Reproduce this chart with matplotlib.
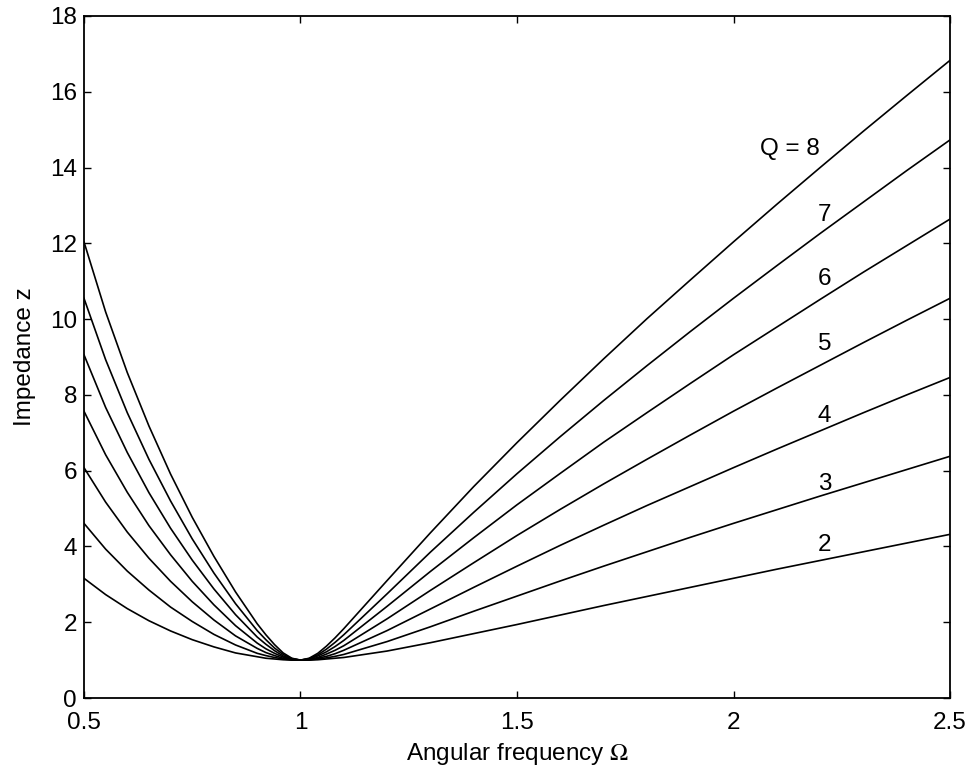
import numpy as np
import matplotlib
matplotlib.use('Agg')
import matplotlib.pyplot as plt

plt.rcParams['font.family'] = ['Liberation Sans', 'DejaVu Sans']
plt.rcParams['mathtext.fontset'] = 'stix'

# frecuencia angular (muestreo mas fino cerca de la resonancia)
omega = [0.50, 0.55, 0.60, 0.65, 0.70, 0.75, 0.80, 0.85, 0.90, 0.92, 0.94,
         0.96, 0.98, 1.00, 1.02, 1.04, 1.06, 1.08, 1.10, 1.20, 1.30, 1.40,
         1.50, 1.60, 1.70, 1.80, 1.90, 2.00, 2.10, 2.20, 2.30, 2.40, 2.50]

z_q2 = [3.16, 2.73, 2.36, 2.04, 1.77, 1.54, 1.35, 1.19, 1.09, 1.05, 1.03,
        1.01, 1.00, 1.00, 1.00, 1.01, 1.03, 1.05, 1.07, 1.24, 1.46, 1.70,
        1.94, 2.19, 2.44, 2.68, 2.92, 3.16, 3.40, 3.63, 3.86, 4.09, 4.32]
z_q3 = [4.61, 3.93, 3.35, 2.85, 2.40, 2.02, 1.68, 1.40, 1.18, 1.12, 1.07,
        1.03, 1.01, 1.00, 1.01, 1.03, 1.06, 1.10, 1.15, 1.49, 1.88, 2.29,
        2.69, 3.09, 3.48, 3.86, 4.24, 4.61, 4.97, 5.33, 5.68, 6.03, 6.38]
z_q4 = [6.08, 5.17, 4.38, 3.69, 3.08, 2.54, 2.06, 1.64, 1.31, 1.20, 1.12,
        1.05, 1.01, 1.00, 1.01, 1.05, 1.10, 1.17, 1.26, 1.78, 2.35, 2.92,
        3.48, 4.03, 4.56, 5.08, 5.58, 6.08, 6.57, 7.05, 7.53, 8.00, 8.46]
z_q5 = [7.57, 6.42, 5.43, 4.55, 3.78, 3.08, 2.46, 1.91, 1.45, 1.30, 1.18,
        1.08, 1.02, 1.00, 1.02, 1.07, 1.16, 1.26, 1.38, 2.09, 2.84, 3.57,
        4.29, 4.98, 5.65, 6.30, 6.94, 7.57, 8.18, 8.78, 9.38, 9.97, 10.55]
z_q6 = [9.06, 7.67, 6.48, 5.42, 4.48, 3.64, 2.88, 2.20, 1.61, 1.42, 1.25,
        1.11, 1.03, 1.00, 1.03, 1.11, 1.22, 1.36, 1.52, 2.42, 3.34, 4.23,
        5.10, 5.93, 6.75, 7.53, 8.30, 9.06, 9.79, 10.52, 11.24, 11.94, 12.64]
z_q7 = [10.55, 8.93, 7.53, 6.30, 5.20, 4.20, 3.30, 2.49, 1.78, 1.54, 1.32,
        1.15, 1.04, 1.00, 1.04, 1.14, 1.29, 1.47, 1.67, 2.75, 3.85, 4.90,
        5.92, 6.90, 7.85, 8.77, 9.67, 10.55, 11.41, 12.26, 13.09, 13.92, 14.73]
z_q8 = [12.04, 10.19, 8.59, 7.18, 5.91, 4.77, 3.74, 2.80, 1.96, 1.67, 1.41,
        1.19, 1.05, 1.00, 1.05, 1.18, 1.37, 1.59, 1.83, 3.10, 4.36, 5.58,
        6.74, 7.86, 8.95, 10.01, 11.03, 12.04, 13.03, 14.00, 14.96, 15.90, 16.83]

curvas = [z_q2, z_q3, z_q4, z_q5, z_q6, z_q7, z_q8]
etiquetas = ['2', '3', '4', '5', '6', '7', 'Q = 8']
pos_etiquetas = [(2.21, 4.05), (2.21, 5.65), (2.21, 7.45), (2.21, 9.35),
                 (2.21, 11.05), (2.21, 12.75), (2.13, 14.5)]

fs = 17.5
fig = plt.figure(figsize=(9.73, 7.80), dpi=100)
ax = fig.add_axes([0.0863, 0.1051, 0.8901, 0.8744])

for z in curvas:
    ax.plot(omega, z, color='k', lw=1.2)

for txt, (xt, yt) in zip(etiquetas, pos_etiquetas):
    ax.text(xt, yt, txt, fontsize=fs, ha='center', va='center')

ax.set_xlim(0.5, 2.5)
ax.set_ylim(0, 18)
ax.set_xticks([0.5, 1, 1.5, 2, 2.5])
ax.set_xticklabels(['0.5', '1', '1.5', '2', '2.5'])
ax.set_yticks(np.arange(0, 19, 2))
ax.tick_params(direction='in', top=True, right=True, length=5, width=1,
               labelsize=fs)
ax.tick_params(axis='x', pad=10)
ax.tick_params(axis='y', pad=5)
for s in ax.spines.values():
    s.set_linewidth(1.3)

ax.set_xlabel(r'Angular frequency $\Omega$', fontsize=fs, labelpad=5)
ax.set_ylabel('Impedance z', fontsize=fs, labelpad=10)

fig.savefig('out.png', dpi=100)
